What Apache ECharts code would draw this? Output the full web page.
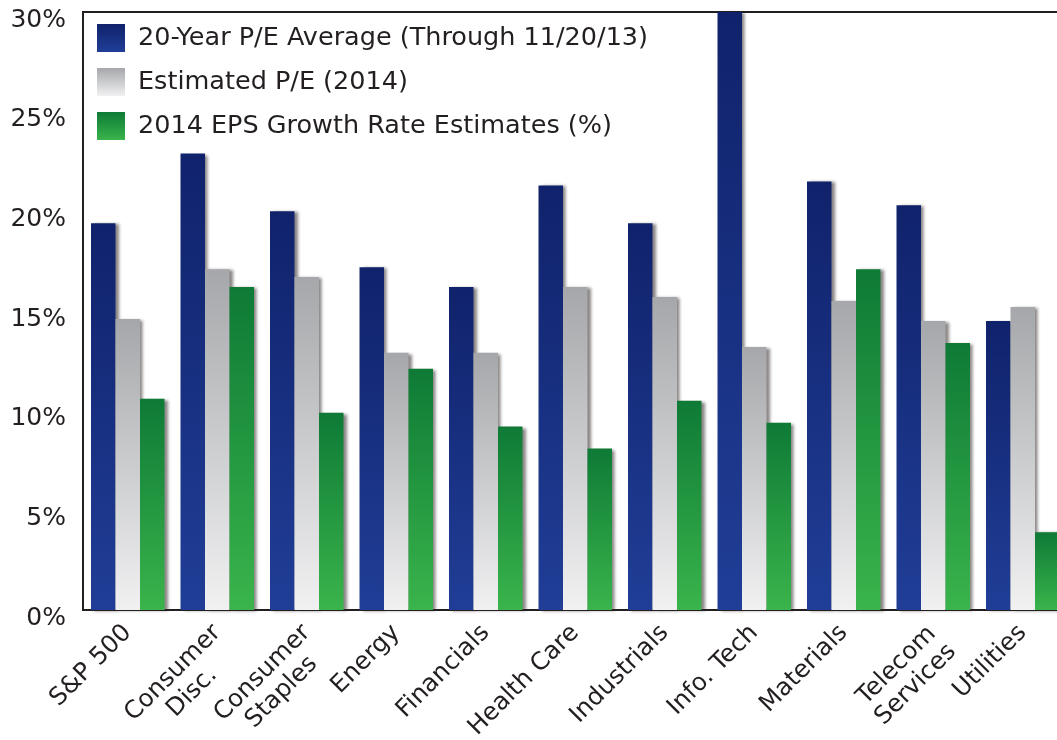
<!DOCTYPE html>
<html>
<head>
<meta charset="utf-8">
<script src="https://cdn.jsdelivr.net/npm/echarts@6/dist/echarts.min.js"></script>
<style>
html,body{margin:0;padding:0;background:#fff;}
#chart{width:1057px;height:740px;}
</style>
</head>
<body>
<div id="chart"></div>
<script>
const categories = ['S&P 500', 'Consumer\nDisc.', 'Consumer\nStaples', 'Energy', 'Financials', 'Health Care', 'Industrials', 'Info. Tech', 'Materials', 'Telecom\nServices', 'Utilities'];
const seriesNames = ['20-Year P/E Average (Through 11/20/13)', 'Estimated P/E (2014)', '2014 EPS Growth Rate Estimates (%)'];
const peAverage20Y = [19.4, 22.9, 20.0, 17.2, 16.2, 21.3, 19.4, 30.5, 21.5, 20.3, 14.5];
const peEstimated2014 = [14.6, 17.1, 16.7, 12.9, 12.9, 16.2, 15.7, 13.2, 15.5, 14.5, 15.2];
const epsGrowth2014 = [10.6, 16.2, 9.9, 12.1, 9.2, 8.1, 10.5, 9.4, 17.1, 13.4, 3.9];
const yTicks = [0, 5, 10, 15, 20, 25, 30];

const FONT = '"DejaVu Sans", Verdana, sans-serif';
const TXT = '#231f20';
function grad(top, bottom) {
  return new echarts.graphic.LinearGradient(0, 0, 0, 1, [
    {offset: 0, color: top}, {offset: 1, color: bottom}
  ]);
}
const colors = [
  grad('#10226b', '#203e97'),
  grad('#a5a7aa', '#f1f1f2'),
  grad('#0e7a36', '#3ab44b')
];
const dataSets = [peAverage20Y, peEstimated2014, epsGrowth2014];

// multi-line labels: first line sits at the anchor (leading blank line balances the block)
function xLabel(v) {
  const lines = v.split('\n').map(s => '{c|' + s + '}');
  if (lines.length > 1) lines.unshift('{c| }');
  return lines.join('\n');
}

const chart = echarts.init(document.getElementById('chart'), null, {renderer: 'canvas'});
chart.setOption({
  animation: false,
  backgroundColor: '#ffffff',
  textStyle: {fontFamily: FONT, color: TXT},
  grid: {
    left: 83, top: 12, right: -10.5, bottom: 130,
    show: true, borderColor: TXT, borderWidth: 2, backgroundColor: 'transparent',
    containLabel: false,
    outerBoundsMode: 'none'
  },
  legend: {
    left: 97, top: 24, padding: 0, orient: 'vertical',
    itemWidth: 28, itemHeight: 28, itemGap: 16,
    icon: 'rect',
    textStyle: {fontFamily: FONT, fontSize: 25.5, lineHeight: 28, color: TXT, padding: [0, 0, 0, 8]},
    data: seriesNames
  },
  xAxis: {
    type: 'category',
    data: categories,
    axisTick: {show: false},
    axisLine: {lineStyle: {color: TXT, width: 2}},
    axisLabel: {
      interval: 0,
      rotate: 45,
      margin: 19,
      fontFamily: FONT, fontSize: 24.5, color: TXT,
      lineHeight: 27,
      formatter: xLabel,
      rich: {c: {align: 'center', fontFamily: FONT, fontSize: 24.5, color: TXT, lineHeight: 27}}
    }
  },
  yAxis: {
    type: 'value',
    min: 0, max: 30, interval: 5,
    axisLine: {show: true, lineStyle: {color: TXT, width: 2}},
    axisTick: {show: false},
    splitLine: {show: false},
    axisLabel: {
      margin: 17,
      fontFamily: FONT, fontSize: 25, color: TXT,
      verticalAlign: 'top',
      lineHeight: 16,
      formatter: v => yTicks.includes(v) ? v + '%' : ''
    }
  },
  series: seriesNames.map((name, i) => ({
    name: name,
    type: 'bar',
    data: dataSets[i],
    barWidth: 24.5,
    barGap: '0%',
    clip: true,
    itemStyle: {
      color: colors[i],
      shadowColor: 'rgba(40,30,30,0.55)',
      shadowBlur: 3,
      shadowOffsetX: 3,
      shadowOffsetY: 1
    }
  }))
});
</script>
</body>
</html>
